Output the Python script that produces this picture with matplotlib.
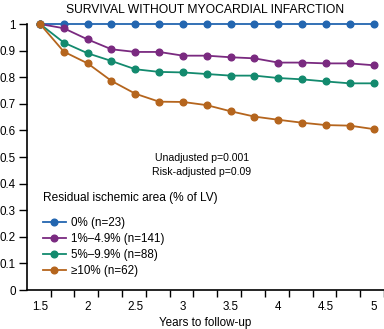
import matplotlib
matplotlib.use("Agg")
import matplotlib.pyplot as plt

plt.rcParams['font.family'] = ['Liberation Sans', 'DejaVu Sans']

# follow-up time (years) and event-free survival per ischemic group
years = [1.5, 1.75, 2.0, 2.25, 2.5, 2.75, 3.0, 3.25, 3.5, 3.75, 4.0, 4.25, 4.5, 4.75, 5.0]
surv_0 = [1.0] * 15
surv_1_49 = [1.0, 0.984, 0.942, 0.905, 0.895, 0.895, 0.881, 0.881, 0.875, 0.871, 0.855, 0.855, 0.852, 0.852, 0.845]
surv_5_99 = [1.0, 0.930, 0.890, 0.861, 0.830, 0.820, 0.818, 0.812, 0.806, 0.806, 0.797, 0.792, 0.784, 0.777, 0.777]
surv_10 = [1.0, 0.896, 0.852, 0.786, 0.738, 0.708, 0.707, 0.695, 0.672, 0.652, 0.640, 0.629, 0.620, 0.618, 0.605]

labels = ["0% (n=23)", "1%\u20134.9% (n=141)", "5%\u20139.9% (n=88)", "\u226510% (n=62)"]
colors = ["#2366b0", "#7a2a80", "#138a6e", "#b5651d"]

yticks = [0, 0.1, 0.2, 0.3, 0.4, 0.5, 0.6, 0.7, 0.8, 0.9, 1]
ytick_labels = ["0", "0.1", "0.2", "0.3", "0.4", "0.5", "0.6", "0.7", "0.8", "0.9", "1"]
xticks = [1.5, 2, 2.5, 3, 3.5, 4, 4.5, 5]
xtick_labels = ["1.5", "2", "2.5", "3", "3.5", "4", "4.5", "5"]

fig = plt.figure(figsize=(3.84, 3.29), dpi=100)
ax = fig.add_axes([0.0695, 0.1185, 0.9305, 0.8085])

for ys, c, lab in zip([surv_0, surv_1_49, surv_5_99, surv_10], colors, labels):
    ax.plot(years, ys, color=c, lw=1.3, marker='o', ms=4.8, label=lab, clip_on=False)

ax.set_xlim(1.36, 5.11)
ax.set_ylim(0, 1)
ax.spines['top'].set_visible(False)
ax.spines['right'].set_visible(False)
for s in ['left', 'bottom']:
    ax.spines[s].set_linewidth(1.2)

ax.set_yticks(yticks)
ax.set_yticklabels(ytick_labels, fontsize=8.4)
ax.tick_params(axis='y', length=5.5, width=1, pad=2.5)

# labels sit on the data points, tick marks fall between them
ax.set_xticks(xticks)
ax.set_xticklabels(xtick_labels, fontsize=8.4)
ax.tick_params(axis='x', which='major', length=0, pad=8)
ax.set_xticks([1.61 + 0.25 * i for i in range(15)], minor=True)
ax.tick_params(axis='x', which='minor', length=5, width=1)

ax.set_xlabel("Years to follow-up", fontsize=8.4, labelpad=3)

fig.text(0.534, 0.988, "SURVIVAL WITHOUT MYOCARDIAL INFARCTION", ha='center', va='top', fontsize=8.7)
ax.text(3.2, 0.47, "Unadjusted p=0.001\nRisk-adjusted p=0.09", ha='center', va='center',
        fontsize=7.6, linespacing=1.4)

leg = ax.legend(loc='upper left', bbox_to_anchor=(0.045, 0.37), frameon=False,
                title="Residual ischemic area (% of LV)", title_fontsize=8.6, fontsize=8.4,
                alignment='left', handlelength=2.0, handletextpad=0.4, labelspacing=0.33,
                borderaxespad=0, borderpad=0)
leg._legend_box.sep = 10

fig.savefig("out.png", dpi=100)
